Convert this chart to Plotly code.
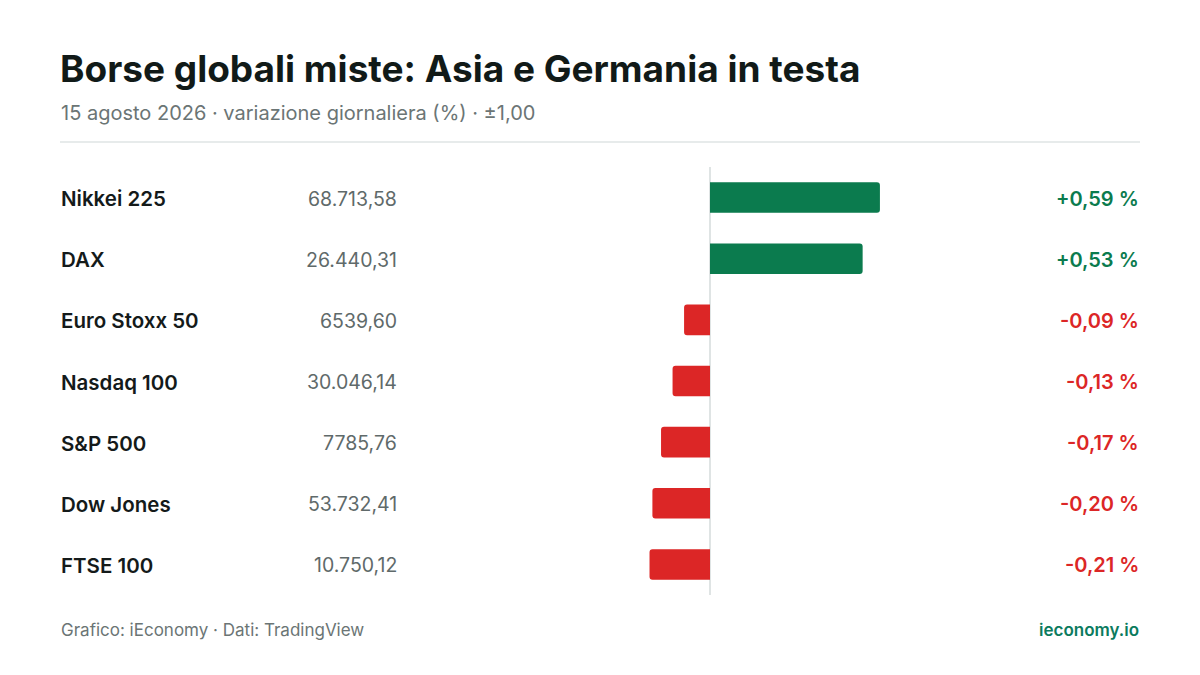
import plotly.graph_objects as go

names = ["Nikkei 225", "DAX", "Euro Stoxx 50", "Nasdaq 100", "S&P 500", "Dow Jones", "FTSE 100"]
levels = ["68.713,58", "26.440,31", "6539,60", "30.046,14", "7785,76", "53.732,41", "10.750,12"]
changes = [0.59, 0.53, -0.09, -0.13, -0.17, -0.20, -0.21]

GREEN = "#0b7b4e"
RED = "#dc2626"
FONT = "Inter"
OFF = 8  # page body margin
W, H = 1200 - OFF, 675 - OFF

colors = [GREEN if c >= 0 else RED for c in changes]

def fmt(c):
    s = f"{c:+.2f}".replace(".", ",")
    return s + " %"

fig = go.Figure()
fig.add_trace(go.Bar(
    x=changes, y=names, orientation="h",
    marker=dict(color=colors, line=dict(width=0)),
    hoverinfo="skip",
))

def px_x(p):
    return (p - OFF) / W

def px_y(p):
    return 1 - (p - OFF) / H

annotations = []
for n, lv, c, col in zip(names, levels, changes, colors):
    annotations.append(dict(x=px_x(59), xref="paper", y=n, yref="y", text=n,
                            xanchor="left", yanchor="middle", showarrow=False, yshift=-1,
                            font=dict(family=FONT, size=20.5, color="#141a1a", weight=600)))
    annotations.append(dict(x=px_x(399), xref="paper", y=n, yref="y", text=lv,
                            xanchor="right", yanchor="middle", showarrow=False, yshift=-1,
                            font=dict(family=FONT, size=19.5, color="#5f6a6a")))
    annotations.append(dict(x=px_x(1141), xref="paper", y=n, yref="y", text=fmt(c),
                            xanchor="right", yanchor="middle", showarrow=False, yshift=-1,
                            font=dict(family=FONT, size=20, color=col, weight=600)))

annotations += [
    dict(x=px_x(58), xref="paper", y=px_y(68), yref="paper",
         text="Borse globali miste: Asia e Germania in testa",
         xanchor="left", yanchor="middle", showarrow=False,
         font=dict(family=FONT, size=37, color="#111a18", weight=700)),
    dict(x=px_x(59), xref="paper", y=px_y(113), yref="paper",
         text="15 agosto 2026 · variazione giornaliera (%) · ±1,00",
         xanchor="left", yanchor="middle", showarrow=False,
         font=dict(family=FONT, size=20, color="#6b7575")),
    dict(x=px_x(59), xref="paper", y=px_y(630), yref="paper",
         text="Grafico: iEconomy · Dati: TradingView",
         xanchor="left", yanchor="middle", showarrow=False,
         font=dict(family=FONT, size=17, color="#6b7575")),
    dict(x=px_x(1141), xref="paper", y=px_y(630), yref="paper",
         text="ieconomy.io",
         xanchor="right", yanchor="middle", showarrow=False,
         font=dict(family=FONT, size=17, color="#0b7b5e", weight=600)),
]

shapes = [dict(type="line", xref="paper", yref="paper",
               x0=px_x(60), x1=px_x(1140), y0=px_y(142), y1=px_y(142),
               line=dict(color="#dfe4e4", width=1.5))]

fig.update_layout(
    width=W, height=H,
    margin=dict(l=0, r=0, t=0, b=0),
    paper_bgcolor="white", plot_bgcolor="white",
    showlegend=False,
    bargap=0.5,
    barcornerradius=3,
    xaxis=dict(domain=[px_x(422), px_x(998)], range=[-1, 1],
               showgrid=False, showticklabels=False, ticks="",
               zeroline=True, zerolinecolor="#dfe4e4", zerolinewidth=2, fixedrange=True),
    yaxis=dict(domain=[px_y(595), px_y(167)], autorange="reversed",
               categoryorder="array", categoryarray=names,
               showgrid=False, showticklabels=False, ticks="", zeroline=False, fixedrange=True),
    annotations=annotations,
    shapes=shapes,
    font=dict(family=FONT),
)

fig.write_html("out.html", config={"displayModeBar": False})
